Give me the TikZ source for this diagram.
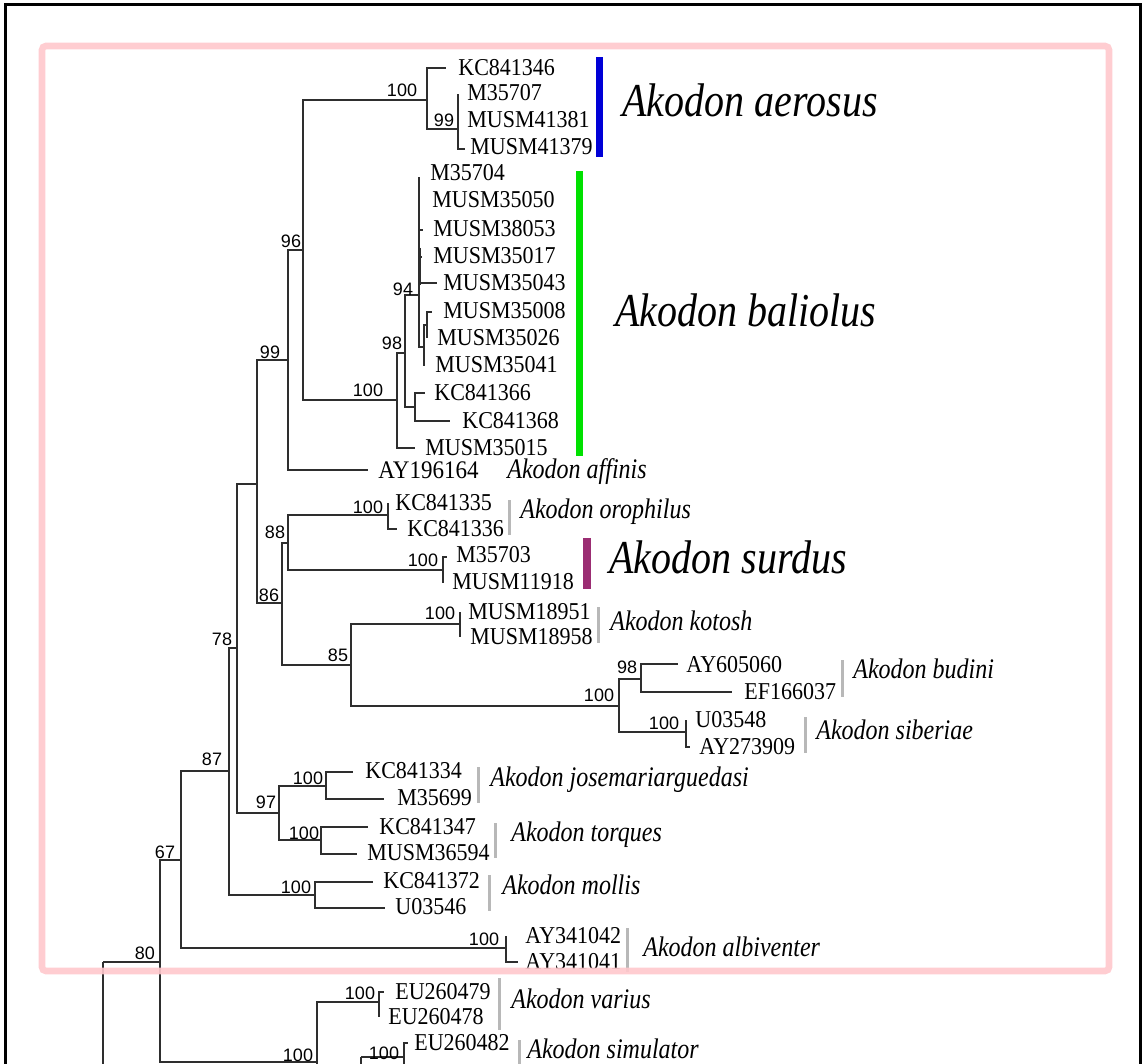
\documentclass[tikz,border=0pt]{standalone}
\usepackage{fontspec}
\setmainfont{Liberation Serif}
\newfontfamily\numfont{Liberation Sans}
\usepackage{graphicx}
\newcommand{\vst}[1]{\scalebox{1}[1.1]{#1}}
\newcommand{\vsp}[1]{\scalebox{1}[1.18]{#1}}
\definecolor{barblue}{RGB}{0,0,215}
\definecolor{bargreen}{RGB}{0,225,0}
\definecolor{barpurple}{RGB}{155,45,115}
\definecolor{pinkbox}{RGB}{255,200,205}
\begin{document}
\begin{tikzpicture}[x=0.5pt,y=-0.5pt,
  br/.style={line width=0.9pt, draw=black!82},
  leaf/.style={anchor=west, inner sep=0pt, font=\fontsize{11}{12}\selectfont},
  bsv/.style={inner sep=0pt, font=\numfont\fontsize{9}{10}\selectfont},
  spec/.style={anchor=base west, inner sep=0pt, font=\itshape\fontsize{12}{14}\selectfont},
  bigspec/.style={anchor=base west, inner sep=0pt, font=\itshape\fontsize{20}{24}\selectfont},
  gbar/.style={line width=1.5pt, draw=black!28},
]
\useasboundingbox (0,0) rectangle (1143,1063);
\clip (0,0) rectangle (1143,1063);
\fill[white] (0,0) rectangle (1143,1063);

% internal nodes
\coordinate (R) at (103,962);
\coordinate (N80) at (160,962);
\coordinate (N67) at (181,860);
\coordinate (N87) at (229,771);
\coordinate (N78) at (237,648);
\coordinate (N257) at (257,484);
\coordinate (N99) at (288,360);
\coordinate (N96) at (303,250);
\coordinate (Naer) at (427,100);
\coordinate (N99a) at (458,129);
\coordinate (Nbal) at (397,400);
\coordinate (N98) at (405,353);
\coordinate (N94) at (419,295);
\coordinate (NA) at (424,347);
\coordinate (NB) at (427,325);
\coordinate (Nkc) at (415,407);
\coordinate (N86) at (282,603);
\coordinate (N88) at (288,543);
\coordinate (Noro) at (388,515);
\coordinate (Nsur) at (443,570);
\coordinate (N85) at (351,665);
\coordinate (Nkot) at (460,624);
\coordinate (Nbs) at (619,706);
\coordinate (Nbud) at (641,679);
\coordinate (Nsib) at (686,732);
\coordinate (N97) at (279,813);
\coordinate (Njos) at (326,786);
\coordinate (Ntor) at (321,840);
\coordinate (Nmol) at (315,895);
\coordinate (Nalb) at (506,948);
\coordinate (N317) at (317,1062);
\coordinate (Nvar) at (379,1002);
\coordinate (N361) at (361,1057);
\coordinate (Nsim) at (404,1057);
% off-picture ends
\coordinate (Rd) at (103,1090);
\coordinate (N317d) at (317,1090);
\coordinate (N361d) at (361,1090);
\coordinate (Nsimd) at (404,1090);

% tips
\foreach \n/\x/\y in {t1/446/68, t2/458/94, t3/458/120, t4/465/149, t5/419/177,
  t6/419/200, t7/423/230, t8/422/257, t9/437/283, t10/432/312, t11/427/338,
  t12/424/366, t13/425/393, t14/450/421, t15/415/448, t16/368/470, t17/388/503,
  t18/397/529, t19/447/557, t20/443/583, t21/460/612, t22/460/637, t23/678/664,
  t24/732/692, t25/686/720, t26/690/747, t27/353/772, t28/384/799, t29/368/827,
  t30/357/854, t31/373/882, t32/385/908, t33/506/936, t34/518/962, t35/384/992,
  t36/379/1017, t37/408/1043}
  \coordinate (\n) at (\x,\y);

% branches
\foreach \p/\c in {R/N80, N80/N67, N80/N317, N67/N87, N67/Nalb, N87/N78, N87/Nmol,
  N78/N257, N78/N97, N257/N99, N257/N86, N99/N96, N99/t16, N96/Naer, N96/Nbal,
  Naer/t1, Naer/N99a, N99a/t2, N99a/t3, N99a/t4, Nbal/N98, Nbal/t15, N98/N94,
  N98/Nkc, Nkc/t13, Nkc/t14, N94/t5, N94/t6, N94/t7, N94/t8, N94/t9, N94/NA,
  NA/NB, NA/t12, NB/t10, NB/t11, N86/N88, N86/N85, N88/Noro, N88/Nsur,
  Noro/t17, Noro/t18, Nsur/t19, Nsur/t20, N85/Nkot, N85/Nbs, Nkot/t21, Nkot/t22,
  Nbs/Nbud, Nbs/Nsib, Nbud/t23, Nbud/t24, Nsib/t25, Nsib/t26, N97/Njos, N97/Ntor,
  Njos/t27, Njos/t28, Ntor/t29, Ntor/t30, Nmol/t31, Nmol/t32, Nalb/t33, Nalb/t34,
  N317/Nvar, Nvar/t35, Nvar/t36, N361/Nsim, Nsim/t37,
  R/Rd, N317/N317d, N361/N361d, Nsim/Nsimd}
  \draw[br] (\p) |- (\c);
\draw[br] (420.5,248) -- (420.5,285);

% leaf labels
\foreach \n/\x/\y/\t in {L1/458/68/KC841346, L2/467/93/M35707, L3/467/120/MUSM41381,
  L4/470/147/MUSM41379, L5/430/173/M35704, L6/432/200/MUSM35050, L7/433/229/MUSM38053,
  L8/433/256/MUSM35017, L9/443/283/MUSM35043, L10/443/311/MUSM35008,
  L11/437/338/MUSM35026, L12/435/365/MUSM35041, L13/434/393/KC841366,
  L14/462/421/KC841368, L15/425/448/MUSM35015, L17/395/503/KC841335,
  L18/407/529/KC841336, L19/456/555/M35703, L20/452/582/MUSM11918,
  L21/468/612/MUSM18951, L22/470/637/MUSM18958, L23/686/665/AY605060,
  L24/744/692/EF166037, L25/695/720/U03548, L26/699/747/AY273909,
  L27/365/771/KC841334, L28/397/798/M35699, L29/379/827/KC841347,
  L30/367/853/MUSM36594, L31/383/881/KC841372, L32/395/907/U03546,
  L33/525/936/AY341042, L34/525/962/AY341041, L35/395/992/EU260479,
  L36/388/1017/EU260478, L37/414/1043/EU260482}
  \node[leaf] (\n) at (\x,\y) {\vst{\t}};
\node[leaf, font=\fontsize{11.5}{12}\selectfont] (L16) at (378,470) {\vst{AY196164}};

% bootstrap values
\foreach \n/\x/\y/\t in {b1/402/90/100, b2/444/120/99, b3/291/241/96, b4/403/289/94,
  b5/392/343/98, b6/368/390/100, b7/270/352/99, b8/368/507/100, b9/275/532/88,
  b10/423/560/100, b11/269/595/86, b12/222/639/78, b13/338/655/85, b14/440/613/100,
  b15/627/667/98, b16/599/695/100, b17/664/723/100, b18/212/759/87, b19/308/778/100,
  b20/266/802/97, b21/304/833/100, b22/296/887/100, b23/165/852/67, b24/484/939/100,
  b25/145/953/80, b26/360/993/100, b27/298/1055/100, b28/384/1053/100}
  \node[bsv] (\n) at (\x,\y) {\t};

% coloured bars
\fill[barblue] (596,57) rectangle (603,157);
\fill[bargreen] (576,171) rectangle (583,456);
\fill[barpurple] (583,538) rectangle (591,589);

% grey bars
\foreach \n/\x/\ya/\yb in {g1/509/500/535, g2/598/607/643, g3/842/660/697,
  g4/805/717/753, g5/478/767/803, g6/495/823/858, g7/489/875/911,
  g8/627/928/972, g9/499/978/1030, g10/519/1040/1080}
  \draw[gbar] (\x,\ya) -- (\x,\yb);

% species names
\node[bigspec] (S1) at (622,117) {\vsp{Akodon aerosus}};
\node[bigspec] (S2) at (615,327) {\vsp{Akodon baliolus}};
\node[bigspec] (S3) at (609,573) {\vsp{Akodon surdus}};
\foreach \n/\x/\y/\t in {s1/507/478/Akodon affinis, s2/520/518/Akodon orophilus,
  s3/610/630/Akodon kotosh, s4/853/678/Akodon budini, s5/816/739/Akodon siberiae,
  s6/490/786/Akodon josemariarguedasi, s7/511/841/Akodon torques,
  s8/502/894/Akodon mollis, s9/643/956/Akodon albiventer, s10/511/1008/Akodon varius,
  s11/527/1058/Akodon simulator}
  \node[spec] (\n) at (\x,\y) {\vsp{\t}};

% pink highlight box
\draw[line width=3.3pt, draw=pinkbox, opacity=0.9, rounded corners=2pt] (42,46) rectangle (1109,971);

% outer frame
\draw[line width=1.5pt] (5.5,1090) -- (5.5,4.5) -- (1140,4.5) -- (1140,1090);
\end{tikzpicture}
\end{document}
